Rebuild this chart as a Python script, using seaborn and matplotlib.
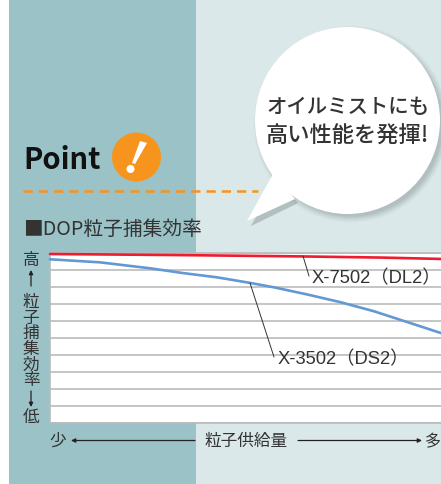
import matplotlib
matplotlib.use("Agg")
import matplotlib.pyplot as plt
import pandas as pd
import seaborn as sns
from matplotlib.patches import Circle, Ellipse, Polygon, Rectangle

sns.set_theme(style="whitegrid")
plt.rcParams['font.family'] = ['Noto Sans CJK JP', 'DejaVu Sans']

# Values (x = supply 0-100, y = efficiency on a 10 band scale)
supply_red = [0, 32, 64, 85, 100]
eff_red = [9.94, 9.88, 9.80, 9.73, 9.65]
supply_blue = [0, 12.8, 25.6, 34, 42.7, 51.2, 57.3, 66, 74.4, 82.9, 91.6, 100]
eff_blue = [9.63, 9.45, 9.10, 8.82, 8.57, 8.24, 7.98, 7.55, 7.10, 6.57, 5.92, 5.29]
label_red = "X-7502（DL2）"
label_blue = "X-3502（DS2）"
y_chars = list("粒子捕集効率")

df = pd.concat([
    pd.DataFrame({"supply": supply_red, "eff": eff_red, "model": label_red}),
    pd.DataFrame({"supply": supply_blue, "eff": eff_blue, "model": label_blue}),
])

fig = plt.figure(figsize=(4.41, 4.85), dpi=100, facecolor="white")
W, H = 441, 485

# background panels, in pixels
bg = fig.add_axes([0, 0, 1, 1], zorder=0)
bg.set_xlim(0, W)
bg.set_ylim(H, 0)
bg.axis("off")
bg.add_patch(Rectangle((9, 0), 187, H, color="#9bc2c7", lw=0))
bg.add_patch(Rectangle((196, 0), W - 196, H, color="#dbe8e9", lw=0))

# chart
ax = fig.add_axes([50 / W, (H - 424) / H, 391 / W, 170 / H], zorder=1)
ax.set_facecolor("white")
sns.lineplot(data=df, x="supply", y="eff", hue="model",
             palette={label_red: "#ed1c2e", label_blue: "#6298d4"},
             linewidth=1.9, legend=False, ax=ax, clip_on=False, zorder=5)
ax.set_xlim(0, 100)
ax.set_ylim(0, 10)
ax.set_yticks(range(11))
ax.set_xticks([])
ax.set_xlabel("")
ax.set_ylabel("")
ax.tick_params(left=False, bottom=False, labelleft=False, labelbottom=False)
ax.grid(True, axis="y", color="#b4b6b6", linewidth=1.1)
for s in ax.spines.values():
    s.set_color("#b9bbbb")
    s.set_linewidth(1.2)
ax.spines["right"].set_visible(False)

# annotations, in pixels
ov = fig.add_axes([0, 0, 1, 1], zorder=2)
ov.set_xlim(0, W)
ov.set_ylim(H, 0)
ov.axis("off")
ov.patch.set_alpha(0)

text_c = "#333333"
label_font = ['Liberation Sans', 'Noto Sans CJK JP']

# bubble shadow
for grow, a in [(10, 0.025), (8, 0.03), (6, 0.035), (4, 0.045), (2, 0.05), (0, 0.06), (-2, 0.07)]:
    ov.add_patch(Ellipse((351, 125), 185 + grow, 187 + grow, color="#4f6163", alpha=a, lw=0))
    ov.add_patch(Polygon([(251, 227), (277, 180), (298, 204)], color="#4f6163", alpha=a, lw=0))

# dashed rule
ov.plot([23, 258], [192, 192], color="#f7941d", lw=1.8, dashes=(3.7, 2.4))

# bubble
ov.add_patch(Ellipse((347.5, 121.5), 185, 187, color="white", lw=0))
ov.add_patch(Polygon([(247, 222), (273, 175), (295, 200)], color="white", lw=0))
ov.text(348, 107, "オイルミストにも", fontsize=14.7, fontweight="medium", color=text_c, ha="center", va="center")
ov.text(347.5, 136, "高い性能を発揮!", fontsize=16, fontweight="medium", color=text_c, ha="center", va="center")

# Point badge
ov.text(23, 160, "Point", fontsize=21, fontweight="bold", color="#111111", ha="left", va="center")
ov.add_patch(Circle((136.5, 158), 24.5, color="#f7941d", lw=0))
ov.add_patch(Polygon([(140, 142), (147, 144), (135, 165), (132, 164)], color="white", lw=0))
ov.add_patch(Circle((130.5, 170), 4, color="white", lw=0))

ov.text(23, 229, "■DOP粒子捕集効率", fontsize=14.2, color=text_c, ha="left", va="center")

# y axis caption
ov.text(31, 261, "高", fontsize=12, color=text_c, ha="center", va="center")
ov.text(31, 418, "低", fontsize=12, color=text_c, ha="center", va="center")
for i, ch in enumerate(y_chars):
    ov.text(31, 302.5 + i * 15.6, ch, fontsize=12, color=text_c, ha="center", va="center")
arrow = dict(arrowstyle="-|>", color="#222222", lw=0.9, mutation_scale=6, shrinkA=0, shrinkB=0)
ov.annotate("", xy=(31, 271), xytext=(31, 287), arrowprops=arrow)
ov.annotate("", xy=(31, 408), xytext=(31, 392), arrowprops=arrow)

# x axis caption
ov.text(58, 441.5, "少", fontsize=12, color=text_c, ha="center", va="center")
ov.text(246, 441.5, "粒子供給量", fontsize=12, color=text_c, ha="center", va="center")
ov.text(433, 441.5, "多", fontsize=11.5, color=text_c, ha="center", va="center")
ov.annotate("", xy=(71, 441.5), xytext=(195, 441.5), arrowprops=arrow)
ov.annotate("", xy=(422, 441.5), xytext=(298, 441.5), arrowprops=arrow)

# leaders and series labels
ov.plot([303, 309], [257, 277], color="#333333", lw=0.7)
ov.plot([250, 274], [284, 358], color="#333333", lw=0.7)
ov.text(312, 279, label_red, fontsize=13.2, color=text_c, ha="left", va="center", family=label_font)
ov.text(278, 360, label_blue, fontsize=13.2, color=text_c, ha="left", va="center", family=label_font)

plt.savefig("out.png", dpi=100)
